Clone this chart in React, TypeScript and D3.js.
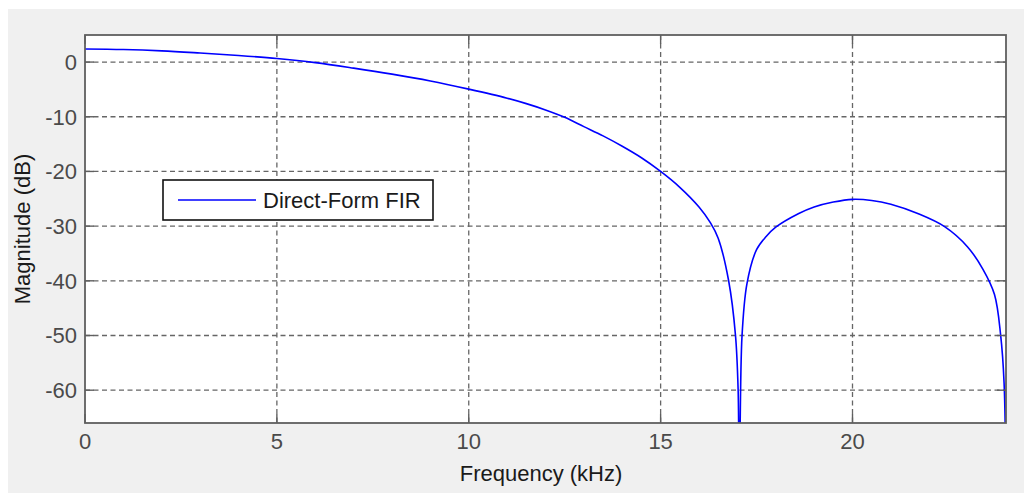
import React from 'react';
import * as d3 from 'd3';

// magnitude response (kHz, dB); nulls pushed below the axis
const FREQ_KHZ = [
  0, 1, 2, 3, 4, 5, 6, 7, 8, 9, 10, 11, 11.5, 12, 12.5, 13, 13.5, 14, 14.5, 15, 15.5, 16,
  16.3, 16.5, 16.77, 16.95, 17.02, 17.05, 17.12, 17.25, 17.5, 17.75, 18, 18.6, 19,
  19.5, 20, 20.5, 21, 21.7, 22.4, 23, 23.4, 23.7, 23.86, 23.95, 24,
];
const MAG_DB = [
  2.4, 2.3, 2.05, 1.65, 1.2, 0.65, -0.1, -1.1, -2.2, -3.45, -4.95, -6.6, -7.6, -8.75, -10.1,
  -11.8, -13.5, -15.4, -17.5, -20, -22.9, -26.5, -29.4, -32.2, -39.9, -49.9, -60, -80,
  -50.2, -40.5, -34.3, -31.9, -30.2, -27.7, -26.5, -25.6, -25.1, -25.3, -26.0, -27.7,
  -30.1, -33.8, -37.9, -42.5, -49.9, -58.7, -80,
];
const X_TICKS = [0, 5, 10, 15, 20];
const Y_TICKS = [0, -10, -20, -30, -40, -50, -60];
const SERIES_NAME = 'Direct-Form FIR';

const W = 1024;
const H = 493;
const PLOT = { left: 85, top: 35, right: 1006, bottom: 423 };
const FONT = '"Liberation Sans", Arial, sans-serif';
const AXIS_COLOR = '#5f5f5f';
const TICK_LEN = 9;

export default function App() {
  const x = d3.scaleLinear().domain([0, 24]).range([PLOT.left, PLOT.right]);
  const y = d3.scaleLinear().domain([-66, 4.95]).range([PLOT.bottom, PLOT.top]);

  const pts = FREQ_KHZ.map((f, i) => [f, MAG_DB[i]] as [number, number]);
  const line = d3.line<[number, number]>()
    .x(d => x(d[0]))
    .y(d => y(d[1]))
    .curve(d3.curveCatmullRom.alpha(0.5));

  return (
    <svg width={W} height={H} style={{ position: 'absolute', left: 0, top: 0, display: 'block' }}>
      <rect x={0} y={0} width={W} height={H} fill="#ffffff" />
      <rect x={8} y={9} width={W - 8} height={H - 9} fill="#f0f0f0" />

      <defs>
        <clipPath id="plot-clip">
          <rect x={PLOT.left} y={PLOT.top} width={PLOT.right - PLOT.left} height={PLOT.bottom - PLOT.top} />
        </clipPath>
      </defs>

      {/* plot area */}
      <rect x={PLOT.left} y={PLOT.top} width={PLOT.right - PLOT.left} height={PLOT.bottom - PLOT.top} fill="#ffffff" />

      {/* grid */}
      <g stroke="#666666" strokeWidth={1.3} strokeDasharray="5,3.5">
        {X_TICKS.filter(t => t !== 0).map(t => (
          <line key={`gx${t}`} x1={x(t)} x2={x(t)} y1={PLOT.top} y2={PLOT.bottom} />
        ))}
        {Y_TICKS.map(t => (
          <line key={`gy${t}`} x1={PLOT.left} x2={PLOT.right} y1={y(t)} y2={y(t)} />
        ))}
      </g>

      {/* curve */}
      <path d={line(pts) ?? ''} fill="none" stroke="#0000ff" strokeWidth={1.6} clipPath="url(#plot-clip)" />

      {/* ticks, all four sides, pointing inward */}
      <g stroke={AXIS_COLOR} strokeWidth={1.4}>
        {X_TICKS.map(t => (
          <g key={`tx${t}`}>
            <line x1={x(t)} x2={x(t)} y1={PLOT.bottom} y2={PLOT.bottom - TICK_LEN} />
            <line x1={x(t)} x2={x(t)} y1={PLOT.top} y2={PLOT.top + TICK_LEN} />
          </g>
        ))}
        {Y_TICKS.map(t => (
          <g key={`ty${t}`}>
            <line x1={PLOT.left} x2={PLOT.left + TICK_LEN} y1={y(t)} y2={y(t)} />
            <line x1={PLOT.right} x2={PLOT.right - TICK_LEN} y1={y(t)} y2={y(t)} />
          </g>
        ))}
      </g>

      {/* frame */}
      <rect x={PLOT.left} y={PLOT.top} width={PLOT.right - PLOT.left} height={PLOT.bottom - PLOT.top}
        fill="none" stroke={AXIS_COLOR} strokeWidth={1.8} />

      {/* tick labels */}
      <g fontFamily={FONT} fontSize={22} fill="#4a4a4a">
        {X_TICKS.map(t => (
          <text key={`lx${t}`} x={x(t)} y={449} textAnchor="middle">{t}</text>
        ))}
        {Y_TICKS.map(t => (
          <text key={`ly${t}`} x={77} y={y(t)} dy="0.36em" textAnchor="end">{t}</text>
        ))}
      </g>

      {/* axis labels */}
      <text x={541} y={481} textAnchor="middle" fontFamily={FONT} fontSize={22} fill="#1a1a1a">
        Frequency (kHz)
      </text>
      <text transform={`translate(30, ${(PLOT.top + PLOT.bottom) / 2}) rotate(-90)`} textAnchor="middle"
        fontFamily={FONT} fontSize={22} fill="#1a1a1a">
        Magnitude (dB)
      </text>

      {/* legend */}
      <g>
        <rect x={163} y={180} width={270} height={40} fill="#ffffff" stroke="#111111" strokeWidth={1.6} />
        <line x1={178} x2={256} y1={200} y2={200} stroke="#0000ff" strokeWidth={1.6} />
        <text x={263} y={208} fontFamily={FONT} fontSize={22} fill="#1a1a1a">{SERIES_NAME}</text>
      </g>
    </svg>
  );
}
